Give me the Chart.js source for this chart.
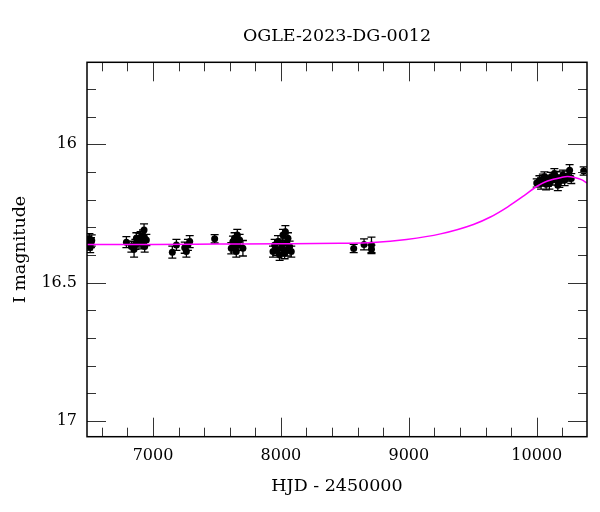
<!DOCTYPE html>
<html>
<head>
<meta charset="utf-8">
<script src="https://cdn.jsdelivr.net/npm/chart.js@4"></script>
<style>
  body { margin: 0; background: #fff; }
  canvas { display: block; }
</style>
</head>
<body>
<canvas id="lc" width="600" height="512"></canvas>
<script>
// observed photometry (HJD - 2450000, I mag, error)
const obsHJD = [
  6492, 6497, 6503, 6509, 6515, 6521,
  6792, 6831, 6852, 6862, 6870, 6883, 6895, 6903, 6909, 6922, 6930, 6935, 6948,
  7151, 7183, 7248, 7261, 7273, 7287,
  7482,
  7612, 7625, 7632, 7638, 7645, 7651, 7659, 7664, 7677, 7703,
  7938, 7951, 7964, 7977, 7990, 8003, 8010, 8016, 8029, 8035, 8042, 8048, 8055, 8068, 8081,
  8569, 8650, 8708, 8708,
  10000, 10021, 10034, 10048, 10060, 10073, 10086, 10099, 10112, 10126, 10138, 10151, 10165, 10177, 10190, 10205, 10218, 10240, 10257, 10270,
  10367
];
const obsMag = [
  16.352, 16.365, 16.343, 16.372, 16.356, 16.348,
  16.354, 16.370, 16.380, 16.362, 16.340, 16.352, 16.345, 16.336, 16.358, 16.330, 16.310, 16.370, 16.346,
  16.390, 16.364, 16.374, 16.388, 16.364, 16.352,
  16.342,
  16.376, 16.352, 16.370, 16.340, 16.358, 16.388, 16.328, 16.364, 16.346, 16.376,
  16.388, 16.364, 16.382, 16.352, 16.400, 16.376, 16.362, 16.328, 16.394, 16.316, 16.358, 16.384, 16.340, 16.370, 16.388,
  16.377, 16.362, 16.364, 16.380,
  16.140, 16.132, 16.142, 16.126, 16.118, 16.145, 16.132, 16.142, 16.120, 16.128, 16.106, 16.118, 16.148, 16.136, 16.120, 16.112, 16.130, 16.115, 16.094, 16.124,
  16.097
];
const obsErr = [
  0.020, 0.018, 0.020, 0.020, 0.018, 0.020,
  0.020, 0.020, 0.028, 0.018, 0.020, 0.020, 0.022, 0.020, 0.020, 0.020, 0.022, 0.020, 0.020,
  0.022, 0.020, 0.020, 0.020, 0.020, 0.022,
  0.015,
  0.020, 0.020, 0.020, 0.020, 0.020, 0.020, 0.020, 0.020, 0.020, 0.028,
  0.020, 0.020, 0.020, 0.022, 0.020, 0.020, 0.020, 0.020, 0.020, 0.022, 0.020, 0.020, 0.020, 0.020, 0.020,
  0.015, 0.020, 0.028, 0.015,
  0.015, 0.018, 0.020, 0.018, 0.018, 0.020, 0.020, 0.020, 0.018, 0.020, 0.018, 0.020, 0.020, 0.020, 0.020, 0.018, 0.020, 0.018, 0.020, 0.018,
  0.015
];

// model curve
const modelHJD = [6484, 7000, 7500, 8000, 8459, 8721, 8982, 9248, 9505, 9638, 9771, 9904, 10005, 10084, 10193, 10240, 10295, 10349, 10393];
const modelMag = [16.362, 16.362, 16.361, 16.360, 16.358, 16.355, 16.344, 16.324, 16.290, 16.263, 16.227, 16.185, 16.151, 16.133, 16.120, 16.117, 16.120, 16.128, 16.140];

// axes
const xLabelTicks = [7000, 8000, 9000, 10000];
const xMinorTicks = [6600, 6800, 7200, 7400, 7600, 7800, 8200, 8400, 8600, 8800, 9200, 9400, 9600, 9800, 10200];
const yLabelTicks = [16, 16.5, 17];
const yMinorTicks = [15.8, 15.9, 16.1, 16.2, 16.3, 16.4, 16.6, 16.7, 16.8, 16.9];

const serif = "'DejaVu Serif', serif";

const errorBars = {
  id: 'errorBars',
  beforeDatasetsDraw(chart) {
    const { ctx, chartArea: a, scales: { x, y } } = chart;
    ctx.save();
    ctx.beginPath();
    ctx.rect(a.left, a.top, a.right - a.left, a.bottom - a.top);
    ctx.clip();
    ctx.strokeStyle = '#000';
    ctx.lineWidth = 1.3;
    obsHJD.forEach((t, i) => {
      const px = x.getPixelForValue(t);
      const p1 = y.getPixelForValue(obsMag[i] - obsErr[i]);
      const p2 = y.getPixelForValue(obsMag[i] + obsErr[i]);
      ctx.beginPath();
      ctx.moveTo(px, p1); ctx.lineTo(px, p2);
      ctx.moveTo(px - 4, p1); ctx.lineTo(px + 4, p1);
      ctx.moveTo(px - 4, p2); ctx.lineTo(px + 4, p2);
      ctx.stroke();
    });
    ctx.restore();
  }
};

const frameTicks = {
  id: 'frameTicks',
  afterDraw(chart) {
    const { ctx, chartArea: a, scales: { x, y } } = chart;
    ctx.save();
    ctx.strokeStyle = '#333';
    ctx.lineWidth = 1;
    const tick = (vals, len) => {
      vals.forEach(v => {
        const px = Math.round(x.getPixelForValue(v)) + 0.5;
        ctx.beginPath();
        ctx.moveTo(px, a.bottom); ctx.lineTo(px, a.bottom - len);
        ctx.moveTo(px, a.top); ctx.lineTo(px, a.top + len);
        ctx.stroke();
      });
    };
    const ytick = (vals, len) => {
      vals.forEach(v => {
        const py = Math.round(y.getPixelForValue(v)) + 0.5;
        ctx.beginPath();
        ctx.moveTo(a.left, py); ctx.lineTo(a.left + len, py);
        ctx.moveTo(a.right, py); ctx.lineTo(a.right - len, py);
        ctx.stroke();
      });
    };
    tick(xMinorTicks, 9);
    tick(xLabelTicks, 19);
    ytick(yMinorTicks, 9);
    ytick(yLabelTicks, 19);
    ctx.strokeStyle = '#000';
    ctx.lineWidth = 1.5;
    ctx.strokeRect(a.left, a.top, a.right - a.left, a.bottom - a.top);
    ctx.restore();
  }
};

new Chart(document.getElementById('lc'), {
  type: 'scatter',
  data: {
    datasets: [
      {
        type: 'line',
        label: 'model',
        data: modelHJD.map((t, i) => ({ x: t, y: modelMag[i] })),
        borderColor: '#ff00ff',
        borderWidth: 1.5,
        pointRadius: 0,
        cubicInterpolationMode: 'monotone',
        fill: false,
        order: 0
      },
      {
        label: 'OGLE',
        data: obsHJD.map((t, i) => ({ x: t, y: obsMag[i] })),
        backgroundColor: '#000',
        borderWidth: 0,
        pointRadius: 3.5,
        order: 1
      }
    ]
  },
  options: {
    responsive: false,
    animation: false,
    events: [],
    layout: { padding: { left: 0, right: 13, top: 0, bottom: 0 } },
    plugins: {
      legend: { display: false },
      tooltip: { enabled: false },
      title: {
        display: true,
        fullSize: false,
        text: 'OGLE-2023-DG-0012',
        color: '#000',
        font: { family: serif, size: 17.5, weight: 'normal', lineHeight: 1.2 },
        padding: { top: 26, bottom: 15.3 }
      }
    },
    scales: {
      x: {
        type: 'linear',
        min: 6484,
        max: 10393,
        grid: { display: false, drawTicks: false },
        border: { display: false },
        afterBuildTicks: s => { s.ticks = xLabelTicks.map(v => ({ value: v })); },
        afterFit: s => { s.height = 75.3; },
        ticks: {
          color: '#000',
          font: { family: serif, size: 16 },
          padding: 10,
          maxRotation: 0,
          autoSkip: false,
          callback: v => String(v)
        },
        title: {
          display: true,
          text: 'HJD - 2450000',
          color: '#000',
          font: { family: serif, size: 17.5, lineHeight: 1.2 },
          padding: { top: 0, bottom: 15.5 }
        }
      },
      y: {
        type: 'linear',
        reverse: true,
        min: 15.704,
        max: 17.057,
        grid: { display: false, drawTicks: false },
        border: { display: false },
        afterBuildTicks: s => { s.ticks = yLabelTicks.map(v => ({ value: v })); },
        afterFit: s => { s.width = 87; },
        ticks: {
          color: '#000',
          font: { family: serif, size: 16 },
          padding: 10,
          autoSkip: false,
          callback: v => String(v)
        },
        title: {
          display: true,
          text: 'I magnitude',
          color: '#000',
          font: { family: serif, size: 17.5, lineHeight: 1.2 },
          padding: { top: 9.5, bottom: 0 }
        }
      }
    }
  },
  plugins: [errorBars, frameTicks]
});
</script>
</body>
</html>
